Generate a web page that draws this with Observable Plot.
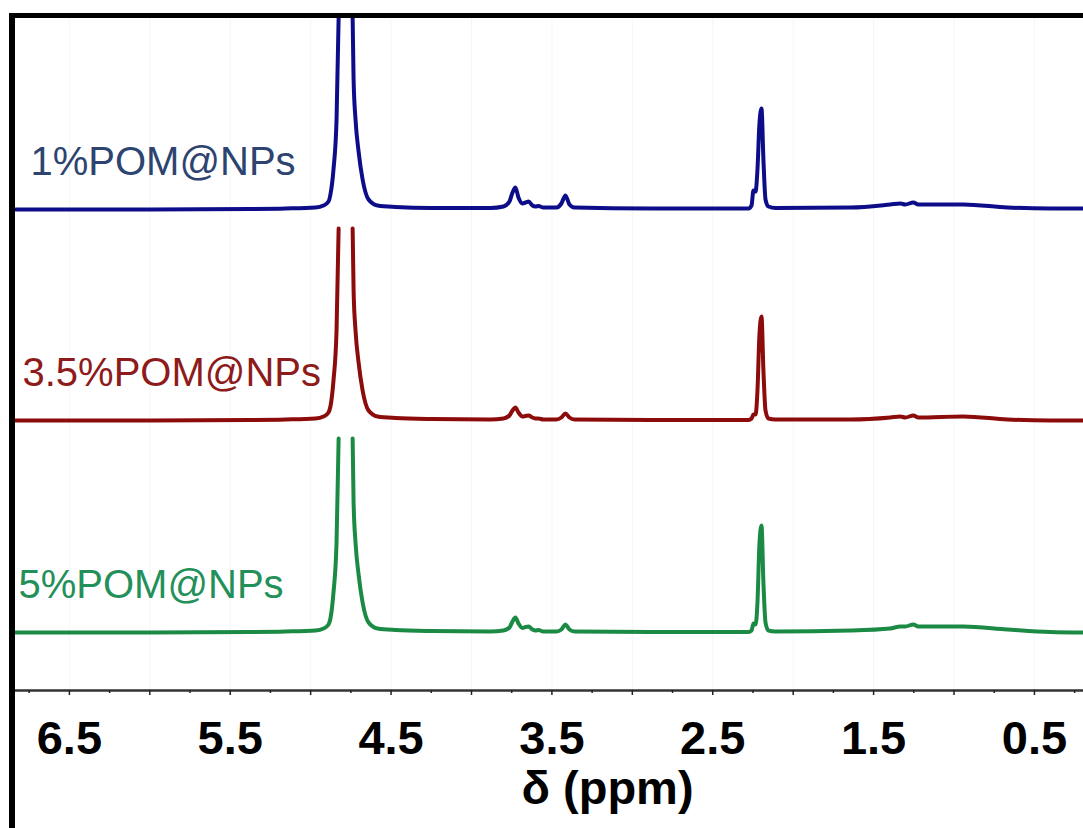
<!DOCTYPE html>
<html>
<head>
<meta charset="utf-8">
<script src="https://cdn.jsdelivr.net/npm/d3@7"></script>
<script src="https://cdn.jsdelivr.net/npm/@observablehq/plot@0.6"></script>
<style>
  body { margin: 0; background: #fff; }
  #wrap { position: relative; width: 1083px; height: 828px; overflow: hidden; background: #fff; }
  #chart svg { display: block; }
  #frame { position: absolute; left: 9px; top: 13px; right: 0; bottom: 0;
           border-left: 6px solid #000; border-top: 5px solid #000; pointer-events: none; }
</style>
</head>
<body>
<div id="wrap"><div id="chart"></div><div id="frame"></div></div>
<script>
// Chemical shift sample positions (ppm)
const ppm = [6.835, 5.996, 5.374, 5.156, 4.970, 4.920, 4.889, 4.877, 4.858, 4.839, 4.826,
             4.783,
             4.739, 4.733, 4.721, 4.702, 4.677, 4.640, 4.584, 4.473, 4.255,
             3.882, 3.801, 3.764, 3.745, 3.727, 3.708, 3.683, 3.664, 3.645, 3.621, 3.602, 3.584, 3.553,
             3.472, 3.441, 3.416, 3.391, 3.360, 2.887,
             2.278, 2.259, 2.247, 2.234, 2.222, 2.210, 2.197, 2.185, 2.172, 2.154, 2.110,
             1.644, 1.396, 1.334, 1.303, 1.253, 1.222, 0.942, 0.668, 0.401, 0.195];

// Intensities above each trace's own baseline (null = peak cut off at the top)
const int1pct = [0, 0, 0.5, 1, 2, 4, 8, 15, 40, 90, 192,
                 null,
                 192, 130, 90, 58, 30, 10, 4, 2.5, 1.5,
                 1.5, 3, 8, 17, 22, 12, 6, 7, 8, 4, 3, 3.5, 2,
                 2, 6, 14, 5, 2, 1,
                 1, 4, 19, 18, 40, 85, 101, 50, 10, 3, 1.5,
                 2, 5, 6, 5, 7, 5, 5, 2, 1, 1];
const int35pct = [0, 0, 0.5, 1, 2, 4, 8, 14, 40, 90, 192,
                  null,
                  192, 130, 90, 58, 30, 10, 4, 2.5, 1.5,
                  1, 2, 5, 10, 13, 8, 4, 4.5, 5, 3, 2, 2, 1,
                  1, 3, 7, 3, 1, 0.5,
                  0.5, 2, 6, 6, 30, 85, 104, 50, 10, 2, 1,
                  1, 3, 4, 3, 5, 3, 4, 1, 0, 0];
const int5pct = [0, 0, 0.5, 1, 2, 4, 8, 14, 40, 90, 194,
                 null,
                 194, 130, 90, 58, 30, 10, 4, 2.5, 1.5,
                 1, 2, 5, 11, 15, 9, 4.5, 5.5, 6, 3, 2, 2.5, 1,
                 1, 3, 8, 3, 1, 0.5,
                 0.5, 2, 9, 8, 30, 88, 107, 50, 10, 2, 1,
                 2, 4, 6, 6, 8, 6, 6, 3, 0.5, 0];

const seriesNames = ["1%POM@NPs", "3.5%POM@NPs", "5%POM@NPs"];
const seriesValues = [int1pct, int35pct, int5pct];
const seriesOffsets = [481, 270, 58];   // vertical stacking offset of each spectrum

// Axis ticks
const majorTicks = [6.5, 6.0, 5.5, 5.0, 4.5, 4.0, 3.5, 3.0, 2.5, 2.0, 1.5, 1.0, 0.5];
const minorTicks = [6.75, 6.25, 5.75, 5.25, 4.75, 4.25, 3.75, 3.25, 2.75, 2.25, 1.75, 1.25, 0.75, 0.25];
const tickLabels = [6.5, 5.5, 4.5, 3.5, 2.5, 1.5, 0.5];
const axisTitle = "δ (ppm)";

// ---- styles / layout ----
const xDomain = [6.835, 0.195];
const lineColors = ["#0d0d8a", "#8c0b0b", "#1b8a45"];
const labelColors = ["#2e4470", "#8e1b1b", "#23905a"];
const labelDx = [15, 7, 3];
const labelLift = 47;

const rows = [];
seriesNames.forEach((name, s) => {
  const vals = seriesValues[s];
  ppm.forEach((p, i) => rows.push({
    series: name, ppm: p,
    y: vals[i] == null ? NaN : seriesOffsets[s] + vals[i]
  }));
});

const chart = Plot.plot({
  width: 1083, height: 828,
  marginLeft: 15, marginRight: 0, marginTop: 18, marginBottom: 138,
  style: { fontFamily: "'Liberation Sans', Arial, sans-serif", background: "#fff" },
  x: { domain: xDomain },
  y: { domain: [0, 672], axis: null },
  color: { domain: seriesNames, range: lineColors },
  marks: [
    Plot.gridX(majorTicks, { stroke: "#000", strokeOpacity: 0.04 }),
    Plot.ruleY([0], { stroke: "#333", strokeWidth: 2.5 }),
    Plot.axisX(majorTicks, { tickSize: 5, tickFormat: () => "", stroke: "#222", strokeWidth: 1.5, label: null }),
    Plot.axisX(minorTicks, { tickSize: 3, tickFormat: () => "", stroke: "#222", strokeWidth: 1.5, label: null }),
    Plot.axisX(tickLabels, { tickSize: 0, tickPadding: 30, fontSize: 47, fontWeight: "bold",
                             fill: "#000", label: null, tickFormat: d => d.toFixed(1) }),
    Plot.line(rows, { x: "ppm", y: "y", z: "series", stroke: "series",
                      strokeWidth: 4, curve: "monotone-x" }),
    ...seriesNames.map((name, s) => Plot.text([{ name, y: seriesOffsets[s] + labelLift }], {
      x: () => xDomain[0], y: "y", text: "name", textAnchor: "start", dx: labelDx[s],
      fill: labelColors[s], fontSize: 40
    })),
    Plot.text([axisTitle], { frameAnchor: "bottom", lineAnchor: "middle", dx: 58, dy: 98, fontSize: 47,
                             fontWeight: "bold", fill: "#000" })
  ]
});
document.getElementById("chart").appendChild(chart);
</script>
</body>
</html>
